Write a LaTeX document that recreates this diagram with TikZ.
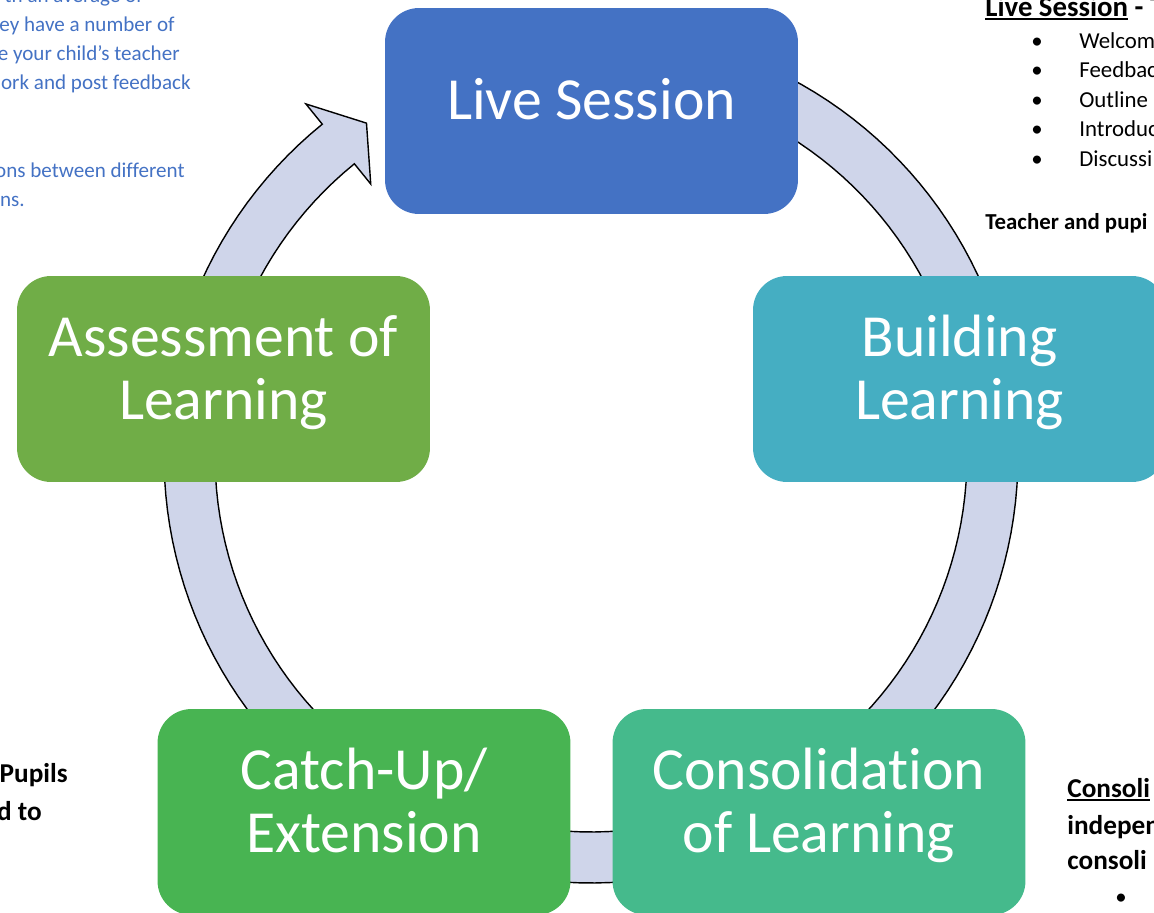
\documentclass[tikz,border=0pt]{standalone}
\usepackage{fontspec}
\setmainfont{Carlito}[Ligatures=NoCommon]
\definecolor{liveblue}{RGB}{68,114,196}
\definecolor{buildteal}{RGB}{69,174,194}
\definecolor{consolgreen}{RGB}{69,186,140}
\definecolor{catchgreen}{RGB}{72,180,82}
\definecolor{assessgreen}{RGB}{112,173,71}
\definecolor{ringfill}{RGB}{207,213,234}
\definecolor{docblue}{RGB}{68,114,196}
\newcommand\myul[1]{\setbox0\hbox{#1}\rlap{\rule[-2.2pt]{\wd0}{1.1pt}}\box0\relax}
\newcommand\boxlowstrut{\rule[-15.3pt]{0pt}{1pt}}
\begin{document}
\begin{tikzpicture}[x=0.02cm,y=-0.02cm,
  cyclebox/.style={rounded corners=0.68cm, minimum width=8.26cm, minimum height=4.12cm,
    text=white, font=\fontsize{34}{36}\selectfont, align=center, inner sep=0pt},
  ringshape/.style={fill=ringfill, draw=black, line width=0.8pt, line join=miter},
  bluetext/.style={text=docblue, font=\fontsize{12}{14}\selectfont, inner sep=0pt, anchor=base east},
  bullettext/.style={text=black, font=\fontsize{13}{15}\selectfont, inner sep=0pt, anchor=base west},
  bulletdot/.style={text=black, font=\fontsize{13}{15}\selectfont, inner sep=0pt, anchor=base},
  boldtext/.style={text=black, font=\bfseries\fontsize{15.5}{18}\selectfont, inner sep=0pt}]
\useasboundingbox (0,0) rectangle (1154,913);
\clip (0,0) rectangle (1154,913);

% circular arrow ring
\path[ringshape]
  plot[domain=129:460,samples=160] ({591+427*cos(\x)},{456-427*sin(\x)})
  -- plot[domain=460:129,samples=160] ({591+376*cos(\x)},{456-376*sin(\x)})
  -- ({591+350*cos(129)},{456-350*sin(129)})
  -- ({591+401.5*cos(124)},{456-401.5*sin(124)})
  -- ({591+453*cos(129)},{456-453*sin(129)})
  -- cycle;

% cycle boxes
\node[cyclebox, fill=liveblue] (live) at (591.5,111) {\strut Live Session\boxlowstrut};
\node[cyclebox, fill=buildteal] (build) at (959.5,379) {\strut Building\\Learning\boxlowstrut};
\node[cyclebox, fill=consolgreen] (consol) at (819,812) {\strut Consolidation\\of Learning\boxlowstrut};
\node[cyclebox, fill=catchgreen] (catch) at (364,812) {\strut Catch-Up/\\Extension\boxlowstrut};
\node[cyclebox, fill=assessgreen] (assess) at (223.5,379) {\strut Assessment of\\Learning\boxlowstrut};

% left blue text fragments
\node[bluetext] (l1) at (143,2) {th an average of};
\node[bluetext] (l2) at (175,31) {ey have a number of};
\node[bluetext] (l3) at (180,60) {e your child’s teacher};
\node[bluetext] (l4) at (191,89) {ork and post feedback};
\node[bluetext] (l5) at (185,177) {ons between different};
\node[bluetext] (l6) at (25,206) {ns.};

% right text fragments
\node[text=black, font=\bfseries\fontsize{16.4}{19}\selectfont, inner sep=0pt, anchor=base west] (r0) at (985,16) {\myul{Live Session} - T};
\node[bulletdot] (b1) at (1037,48) {•};
\node[bulletdot] (b2) at (1037,77.5) {•};
\node[bulletdot] (b3) at (1037,107) {•};
\node[bulletdot] (b4) at (1037,136.5) {•};
\node[bulletdot] (b5) at (1037,166) {•};
\node[bullettext] (t1) at (1079,48) {Welcom};
\node[bullettext] (t2) at (1079,77.5) {Feedbac};
\node[bullettext] (t3) at (1079,107) {Outline};
\node[bullettext] (t4) at (1079,136.5) {Introduc};
\node[bullettext] (t5) at (1079,166) {Discussi};
\node[text=black, font=\bfseries\fontsize{13}{15}\selectfont, inner sep=0pt, anchor=base west] (r6) at (985,229) {Teacher and pupi};

% bottom-left fragments
\node[boldtext, anchor=base east] (p1) at (68,782) {Pupils};
\node[boldtext, anchor=base east] (p2) at (42,820) {d to};

% bottom-right fragments
\node[boldtext, anchor=base west] (c1) at (1067,797) {\myul{Consoli}};
\node[boldtext, anchor=base west] (c2) at (1067,834) {indepen};
\node[boldtext, anchor=base west] (c3) at (1067,869) {consoli};
\node[bulletdot] (c4) at (1121,904) {•};
\end{tikzpicture}
\end{document}
